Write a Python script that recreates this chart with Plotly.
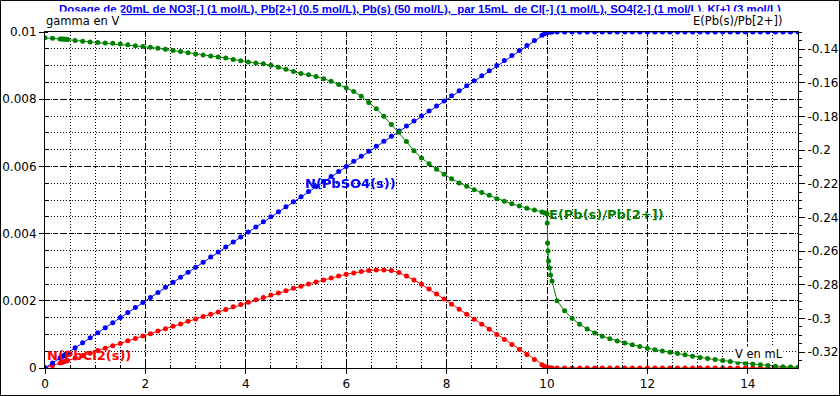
import plotly.graph_objects as go

V_ML = [0, 0.15, 0.3, 0.33, 0.36, 0.39, 0.42, 0.45, 0.6, 0.75,
        0.9, 1.05, 1.2, 1.35, 1.5, 1.65, 1.8, 1.95, 2.1, 2.25,
        2.4, 2.55, 2.7, 2.85, 3.0, 3.15, 3.3, 3.45, 3.6, 3.75,
        3.9, 4.05, 4.2, 4.35, 4.5, 4.65, 4.8, 4.95, 5.1, 5.25,
        5.4, 5.55, 5.7, 5.85, 6.0, 6.15, 6.3, 6.45, 6.6, 6.75,
        6.9, 7.05, 7.2, 7.35, 7.5, 7.65, 7.8, 7.95, 8.1, 8.25,
        8.4, 8.55, 8.7, 8.85, 9.0, 9.15, 9.3, 9.45, 9.6, 9.75,
        9.9, 9.95, 9.99, 10.0, 10.005, 10.01, 10.02, 10.03, 10.05, 10.07,
        10.1, 10.2, 10.35, 10.5, 10.65, 10.8, 10.95, 11.1, 11.25, 11.4,
        11.55, 11.7, 11.85, 12.0, 12.15, 12.3, 12.45, 12.6, 12.75, 12.9,
        13.05, 13.2, 13.35, 13.5, 13.65, 13.8, 13.95, 14.1, 14.25, 14.4,
        14.55, 14.7, 14.85, 15.0]

N_PBSO4 = [0, 0.00015, 0.0003, 0.00033, 0.00036, 0.00039, 0.00042, 0.00045, 0.0006, 0.00075,
           0.0009, 0.00105, 0.0012, 0.00135, 0.0015, 0.00165, 0.0018, 0.00195, 0.0021, 0.00225,
           0.0024, 0.00255, 0.0027, 0.00285, 0.003, 0.00315, 0.0033, 0.00345, 0.0036, 0.00375,
           0.0039, 0.00405, 0.0042, 0.00435, 0.0045, 0.00465, 0.0048, 0.00495, 0.0051, 0.00525,
           0.0054, 0.00555, 0.0057, 0.00585, 0.006, 0.00615, 0.0063, 0.00645, 0.0066, 0.00675,
           0.0069, 0.00705, 0.0072, 0.00735, 0.0075, 0.00765, 0.0078, 0.00795, 0.0081, 0.00825,
           0.0084, 0.00855, 0.0087, 0.00885, 0.009, 0.00915, 0.0093, 0.00945, 0.0096, 0.00975,
           0.0099, 0.00995, 0.00999, 0.01, 0.01, 0.01, 0.01, 0.01, 0.01, 0.01,
           0.01, 0.01, 0.01, 0.01, 0.01, 0.01, 0.01, 0.01, 0.01, 0.01,
           0.01, 0.01, 0.01, 0.01, 0.01, 0.01, 0.01, 0.01, 0.01, 0.01,
           0.01, 0.01, 0.01, 0.01, 0.01, 0.01, 0.01, 0.01, 0.01, 0.01,
           0.01, 0.01, 0.01, 0.01]

N_PBCL2 = [0, 0.00007, 0.00015, 0.000165, 0.00018, 0.000195, 0.00021, 0.000225, 0.0003, 0.00037,
           0.00044, 0.00052, 0.00059, 0.00066, 0.00073, 0.00081, 0.00088, 0.00095, 0.00102, 0.0011,
           0.00117, 0.00124, 0.00131, 0.00139, 0.00146, 0.00153, 0.0016, 0.00167, 0.00174, 0.00182,
           0.00189, 0.00196, 0.00203, 0.0021, 0.00217, 0.00223, 0.0023, 0.00237, 0.00243, 0.0025,
           0.00256, 0.00262, 0.00268, 0.00274, 0.00279, 0.00283, 0.00287, 0.0029, 0.00292, 0.00292,
           0.0029, 0.00284, 0.00274, 0.00262, 0.00249, 0.00235, 0.0022, 0.00205, 0.0019, 0.00175,
           0.0016, 0.00145, 0.0013, 0.00115, 0.001, 0.00085, 0.0007, 0.00055, 0.0004, 0.00025,
           0.0001, 0.00005, 0.00001, 0, 0, 0, 0, 0, 0, 0,
           0, 0, 0, 0, 0, 0, 0, 0, 0, 0,
           0, 0, 0, 0, 0, 0, 0, 0, 0, 0,
           0, 0, 0, 0, 0, 0, 0, 0, 0, 0,
           0, 0, 0, 0]

E_PB = [-0.1333, -0.1336, -0.1340, -0.1341, -0.1341, -0.1342, -0.1342, -0.1343, -0.1349, -0.1354,
        -0.1358, -0.1361, -0.1364, -0.1366, -0.1370, -0.1375, -0.1380, -0.1385, -0.1390, -0.1396,
        -0.1402, -0.1409, -0.1415, -0.1422, -0.1429, -0.1435, -0.1441, -0.1447, -0.1454, -0.1462,
        -0.1470, -0.1477, -0.1483, -0.1488, -0.1497, -0.1508, -0.1520, -0.1533, -0.1546, -0.1553,
        -0.1563, -0.1576, -0.1592, -0.1611, -0.1630, -0.1652, -0.1680, -0.1718, -0.1755, -0.1799,
        -0.1848, -0.1895, -0.1950, -0.2004, -0.2047, -0.2082, -0.2114, -0.2144, -0.2171, -0.2196,
        -0.2216, -0.2236, -0.2253, -0.2269, -0.2290, -0.2305, -0.2320, -0.2333, -0.2346, -0.2357,
        -0.2369, -0.2372, -0.2375, -0.2380, -0.2434, -0.2553, -0.2600, -0.2660, -0.2701, -0.2743,
        -0.2778, -0.2895, -0.2955, -0.3000, -0.3035, -0.3063, -0.3087, -0.3106, -0.3121, -0.3135,
        -0.3146, -0.3157, -0.3168, -0.3178, -0.3186, -0.3194, -0.3202, -0.3209, -0.3217, -0.3225,
        -0.3232, -0.3239, -0.3245, -0.3251, -0.3257, -0.3262, -0.3267, -0.3271, -0.3275, -0.3280,
        -0.3284, -0.3287, -0.3289, -0.3291]

X_TICKS = [0, 2, 4, 6, 8, 10, 12, 14]
X_TICK_TEXT = ["0", "2", "4", "6", "8", "10", "12", "14"]
Y_TICKS = [0, 0.002, 0.004, 0.006, 0.008, 0.01]
Y_TICK_TEXT = ["0", "0.002", "0.004", "0.006", "0.008", "0.01"]
E_TICKS = [-0.14, -0.16, -0.18, -0.2, -0.22, -0.24, -0.26, -0.28, -0.3, -0.32]
E_TICK_TEXT = ["-0.14", "-0.16", "-0.18", "-0.2", "-0.22", "-0.24", "-0.26", "-0.28", "-0.3", "-0.32"]

TITLE = ("Dosage de 20mL de NO3[-] (1 mol/L), Pb[2+] (0.5 mol/L), Pb(s) (50 mol/L),  "
         "par 15mL  de Cl[-] (1 mol/L), SO4[2-] (1 mol/L), K[+] (3 mol/L)")

assert len(V_ML) == len(N_PBSO4) == len(N_PBCL2) == len(E_PB)

BLUE = "#0000ff"
RED = "#ff0000"
GREEN = "#008000"
FAM = "DejaVu Sans"
TICKFONT = dict(family=FAM, size=12, color="black")

fig = go.Figure()
fig.add_trace(go.Scatter(x=V_ML, y=E_PB, yaxis="y2", mode="lines+markers",
                         line=dict(color=GREEN, width=1), marker=dict(color=GREEN, size=5)))
fig.add_trace(go.Scatter(x=V_ML, y=N_PBCL2, mode="lines+markers",
                         line=dict(color=RED, width=1), marker=dict(color=RED, size=5)))
fig.add_trace(go.Scatter(x=V_ML, y=N_PBSO4, mode="lines+markers",
                         line=dict(color=BLUE, width=1), marker=dict(color=BLUE, size=5)))

grid_major = dict(showgrid=True, gridcolor="black", gridwidth=1, griddash="5px,3px")

fig.update_layout(
    width=840, height=396,
    margin=dict(l=45, r=42, t=32, b=28, autoexpand=False),
    paper_bgcolor="white", plot_bgcolor="white",
    showlegend=False,
    xaxis=dict(range=[0, 15], tickvals=X_TICKS, ticktext=X_TICK_TEXT, tickfont=TICKFONT,
               automargin=False,
               showline=True, linecolor="black", linewidth=1, mirror=True, zeroline=False,
               ticks="outside", ticklen=5, tickcolor="black",
               minor=dict(dtick=0.5, tick0=0, ticks="inside", ticklen=3, tickcolor="black",
                          showgrid=True, gridcolor="black", gridwidth=1, griddash="1px,2px"),
               **grid_major),
    yaxis=dict(range=[0, 0.01], tickvals=Y_TICKS, ticktext=Y_TICK_TEXT, tickfont=TICKFONT,
               automargin=False,
               showline=True, linecolor="black", linewidth=1, zeroline=False,
               ticks="outside", ticklen=5, tickcolor="black",
               minor=dict(dtick=0.0005, tick0=0, ticks="inside", ticklen=3, tickcolor="black",
                          showgrid=True, gridcolor="black", gridwidth=1, griddash="1px,2px"),
               **grid_major),
    yaxis2=dict(range=[-0.3295, -0.1299], overlaying="y", side="right",
                tickvals=E_TICKS, ticktext=E_TICK_TEXT, tickfont=TICKFONT,
                automargin=False,
                showline=True, linecolor="black", linewidth=1, zeroline=False, showgrid=False,
                ticks="outside", ticklen=6, tickcolor="black",
                minor=dict(dtick=0.005, tick0=-0.14, ticks="outside", ticklen=3,
                           tickcolor="black", showgrid=False)),
)

annots = [
    dict(text="<b>" + TITLE + "</b>", xref="paper", yref="paper", x=0.498, y=1.068,
         xanchor="center", yanchor="middle", showarrow=False,
         font=dict(family="Liberation Sans", size=11.4, color=BLUE, lineposition="under")),
    dict(text="gamma en V", xref="paper", yref="paper", x=-0.003, y=1.034,
         xanchor="left", yanchor="middle", showarrow=False, bgcolor="white", borderpad=2,
         font=dict(family=FAM, size=11.5, color="black")),
    dict(text="E(Pb(s)/Pb[2+])", xref="paper", yref="paper", x=0.856, y=1.034,
         xanchor="left", yanchor="middle", showarrow=False, bgcolor="white", borderpad=2,
         font=dict(family=FAM, size=11.5, color="black")),
    dict(text="V en mL", xref="paper", yref="paper", x=0.982, y=0.042,
         xanchor="right", yanchor="middle", showarrow=False, bgcolor="white", borderpad=0,
         font=dict(family=FAM, size=11.5, color="black")),
    dict(text="<b>N(PbSO4(s))</b>", x=5.14, y=0.0055, xref="x", yref="y",
         xanchor="left", yanchor="middle", showarrow=False,
         font=dict(family=FAM, size=13, color=BLUE)),
    dict(text="<b>E(Pb(s)/Pb[2+])</b>", x=10.0, y=0.00458, xref="x", yref="y",
         xanchor="left", yanchor="middle", showarrow=False,
         font=dict(family=FAM, size=13, color=GREEN)),
    dict(text="<b>N(PbCl2(s))</b>", x=0.0, y=0.00036, xref="x", yref="y",
         xanchor="left", yanchor="middle", showarrow=False,
         font=dict(family=FAM, size=13, color=RED)),
]
fig.update_layout(annotations=annots)

# outer frame of the picture
fig.add_shape(type="rect", xref="paper", yref="paper",
              x0=-0.0591, x1=1.0551, y0=-0.0818, y1=1.0938,
              line=dict(color="black", width=1), fillcolor="rgba(0,0,0,0)", layer="above")

fig.write_html("out.html", config={"displayModeBar": False},
               post_script="document.body.style.margin='0';document.body.style.padding='0';")
